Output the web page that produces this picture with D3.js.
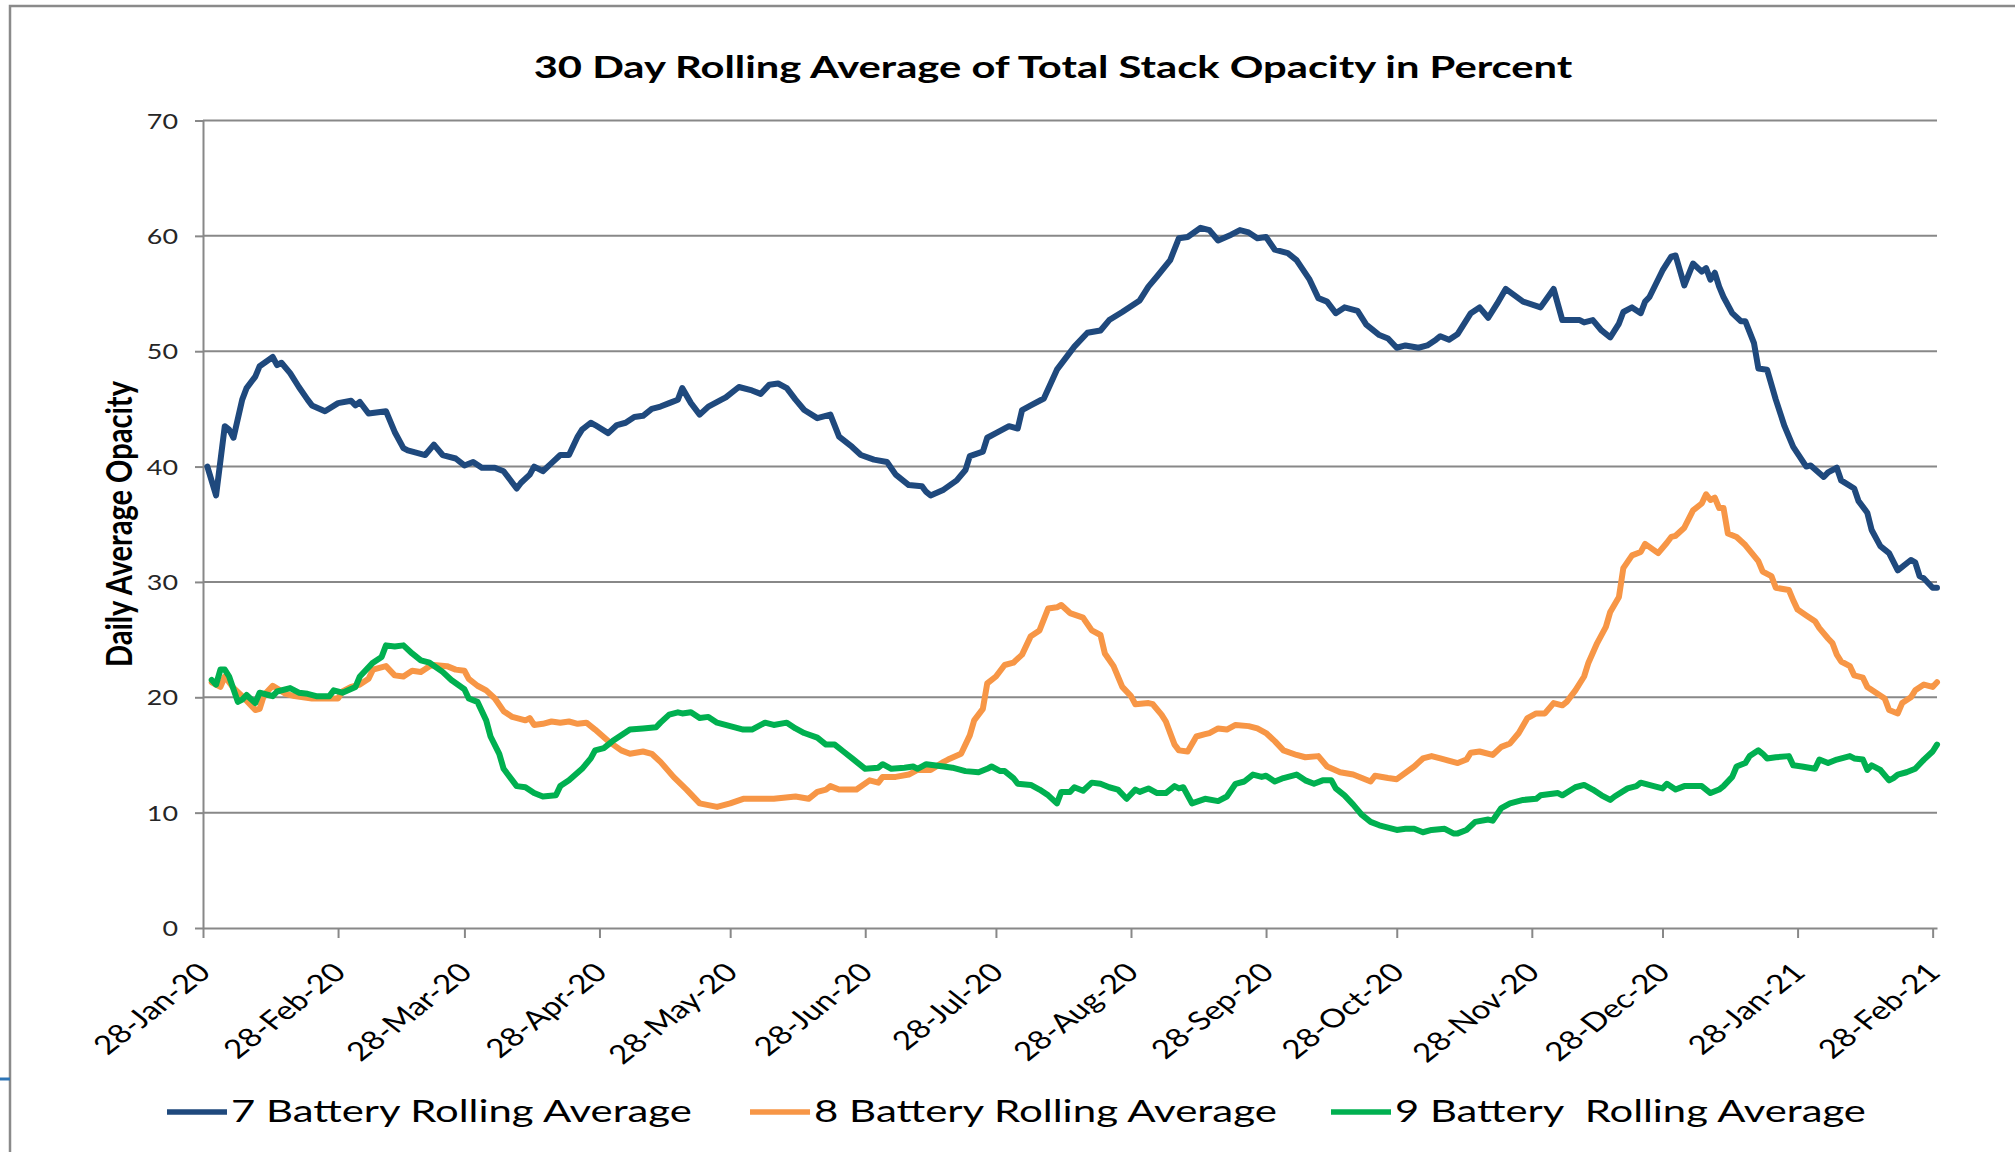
<!DOCTYPE html>
<html>
<head>
<meta charset="utf-8">
<script src="https://cdn.jsdelivr.net/npm/d3@7"></script>
<style>
  body { margin: 0; background: #fff; }
  svg text { font-family: Lato, 'Open Sans', sans-serif; }
</style>
</head>
<body>
<script>
// days after 28-Jan-20, 30 day rolling average in percent
var startDate = new Date(2020, 0, 28)
var endDate = new Date(2021, 2, 1)

var titleText = '30 Day Rolling Average of Total Stack Opacity in Percent'
var yTitleText = 'Daily Average Opacity'
var seriesNames = ['7 Battery Rolling Average', '8 Battery Rolling Average', '9 Battery  Rolling Average']
var yTicks = [0, 10, 20, 30, 40, 50, 60, 70]
var tickLabels = ['28-Jan-20', '28-Feb-20', '28-Mar-20', '28-Apr-20', '28-May-20', '28-Jun-20', '28-Jul-20',
  '28-Aug-20', '28-Sep-20', '28-Oct-20', '28-Nov-20', '28-Dec-20', '28-Jan-21', '28-Feb-21']

var battery7 = [[1,40.0],[3,37.5],[5,43.5],[6,43.2],[7,42.5],[9,45.8],[10,46.8],[12,47.8],[13,48.7],[16,49.5],
  [17,48.8],[18,49.0],[20,48.1],[22,46.9],[24,45.8],[25,45.3],[28,44.8],[31,45.5],[34,45.7],[35,45.3],[36,45.6],
  [38,44.6],[42,44.8],[44,43.0],[46,41.6],[47,41.4],[51,41.0],[53,41.9],[55,41.0],[58,40.7],[60,40.1],[62,40.4],
  [64,39.9],[67,39.9],[69,39.6],[72,38.1],[73,38.6],[75,39.3],[76,40.0],[78,39.6],[80,40.3],[82,41.0],[84,41.0],
  [86,42.6],[87,43.2],[89,43.8],[90,43.6],[93,42.9],[95,43.6],[97,43.8],[99,44.3],[101,44.4],[103,45.0],[105,45.2],
  [107,45.5],[109,45.8],[110,46.8],[112,45.5],[114,44.5],[116,45.2],[119,45.8],[120,46.0],[123,46.9],[126,46.6],
  [128,46.3],[130,47.1],[132,47.2],[134,46.8],[136,45.8],[138,44.9],[141,44.2],[144,44.5],[146,42.6],[149,41.7],
  [151,41.0],[154,40.6],[157,40.4],[159,39.3],[162,38.4],[165,38.3],[166,37.8],[167,37.5],[170,38.0],[173,38.8],
  [175,39.7],[176,40.9],[179,41.3],[180,42.5],[182,42.9],[185,43.5],[187,43.3],[188,44.9],[190,45.3],[193,45.9],
  [196,48.4],[200,50.4],[203,51.6],[206,51.8],[208,52.7],[211,53.4],[215,54.4],[217,55.6],[219,56.5],[222,57.9],
  [224,59.8],[226,59.9],[229,60.7],[231,60.5],[233,59.6],[236,60.1],[238,60.5],[240,60.3],[242,59.8],[244,59.9],
  [246,58.8],[249,58.5],[251,57.9],[254,56.2],[256,54.6],[258,54.3],[260,53.3],[262,53.8],[265,53.5],[267,52.3],
  [270,51.4],[272,51.1],[274,50.3],[276,50.5],[279,50.3],[281,50.5],[283,51.0],[284,51.3],[286,51.0],[288,51.5],
  [291,53.3],[293,53.8],[295,52.9],[297,54.1],[299,55.4],[303,54.3],[307,53.8],[310,55.4],[312,52.7],[316,52.7],
  [317,52.5],[319,52.7],[321,51.8],[323,51.2],[325,52.4],[326,53.4],[328,53.8],[330,53.3],[331,54.3],[332,54.7],
  [335,57.0],[337,58.2],[338,58.3],[340,55.7],[342,57.6],[344,56.9],[345,57.2],[346,56.2],[347,56.8],[348,55.6],
  [349,54.7],[351,53.3],[353,52.6],[354,52.6],[356,50.7],[357,48.5],[359,48.4],[361,45.8],[363,43.5],[365,41.7],
  [368,40.0],[369,40.1],[372,39.1],[373,39.5],[375,39.9],[376,38.8],[379,38.1],[380,37.0],[382,36.0],[383,34.5],
  [385,33.1],[387,32.5],[389,31.0],[392,31.9],[393,31.7],[394,30.5],[395,30.3],[397,29.5],[398,29.5]]

var battery8 = [[2,21.3],[4,20.9],[5,21.8],[7,20.8],[9,20.1],[12,18.9],[13,19.0],[14,20.2],[16,21.0],[19,20.3],
  [21,20.1],[25,19.9],[28,19.9],[31,19.9],[32,20.5],[34,20.9],[36,21.1],[38,21.6],[39,22.4],[42,22.7],[44,21.9],
  [46,21.8],[48,22.3],[50,22.2],[52,22.7],[53,22.8],[56,22.7],[58,22.4],[60,22.3],[61,21.6],[63,21.0],[65,20.6],
  [67,19.9],[69,18.8],[71,18.3],[74,18.0],[75,18.2],[76,17.6],[78,17.7],[80,17.9],[82,17.8],[84,17.9],[86,17.7],
  [88,17.8],[90,17.2],[93,16.2],[96,15.4],[98,15.1],[101,15.3],[103,15.1],[105,14.4],[108,13.1],[111,12.0],
  [114,10.8],[118,10.5],[121,10.8],[124,11.2],[127,11.2],[131,11.2],[136,11.4],[139,11.2],[141,11.8],[143,12.0],
  [144,12.3],[146,12.0],[150,12.0],[153,12.8],[155,12.6],[156,13.1],[159,13.1],[162,13.3],[164,13.7],[167,13.7],
  [170,14.4],[171,14.6],[174,15.1],[176,16.7],[177,18.0],[179,19.0],[180,21.2],[182,21.8],[184,22.8],[186,23.0],
  [188,23.7],[190,25.3],[192,25.8],[194,27.7],[196,27.8],[197,28.0],[199,27.3],[202,26.9],[204,25.8],[206,25.4],
  [207,23.8],[209,22.7],[211,20.9],[213,20.1],[214,19.4],[217,19.5],[218,19.4],[220,18.5],[221,17.9],[223,15.9],
  [224,15.4],[226,15.3],[228,16.6],[230,16.8],[231,16.9],[233,17.3],[235,17.2],[237,17.6],[240,17.5],[242,17.3],
  [244,16.9],[246,16.2],[248,15.4],[251,15.0],[253,14.8],[256,14.9],[258,14.0],[261,13.5],[264,13.3],[268,12.7],
  [269,13.2],[272,13.0],[274,12.9],[278,14.0],[280,14.7],[282,14.9],[284,14.7],[288,14.3],[290,14.6],[291,15.2],
  [293,15.3],[296,15.0],[298,15.7],[300,16.0],[302,16.9],[304,18.2],[306,18.6],[308,18.6],[310,19.5],[312,19.3],
  [313,19.6],[315,20.6],[317,21.8],[318,23.0],[320,24.7],[322,26.1],[323,27.4],[325,28.7],[326,31.2],[328,32.3],
  [330,32.6],[331,33.3],[334,32.5],[336,33.4],[337,33.9],[338,34.0],[340,34.7],[342,36.2],[344,36.8],[345,37.6],
  [346,37.1],[347,37.3],[348,36.4],[349,36.4],[350,34.2],[352,33.9],[354,33.2],[357,31.8],[358,30.9],[360,30.5],
  [361,29.5],[364,29.3],[365,28.4],[366,27.6],[368,27.1],[370,26.6],[371,26.0],[373,25.1],[374,24.7],[375,23.7],
  [376,23.1],[378,22.7],[379,21.9],[381,21.7],[382,20.9],[384,20.4],[386,19.9],[387,18.9],[389,18.6],[390,19.5],
  [392,20.0],[393,20.6],[395,21.1],[397,20.9],[398,21.3]]

var battery9 = [[2,21.5],[3,21.1],[4,22.4],[5,22.4],[6,21.8],[8,19.6],[9,19.8],[10,20.2],[12,19.5],[13,20.4],
  [15,20.2],[16,20.1],[17,20.5],[20,20.8],[22,20.4],[24,20.3],[26,20.1],[29,20.1],[30,20.6],[32,20.4],[35,20.9],
  [36,21.8],[39,23.0],[41,23.5],[42,24.5],[44,24.4],[46,24.5],[48,23.8],[50,23.2],[52,23.0],[55,22.2],[57,21.5],
  [60,20.7],[61,19.9],[63,19.6],[65,18.0],[66,16.6],[68,15.1],[69,13.8],[71,12.8],[72,12.3],[74,12.2],[76,11.7],
  [78,11.4],[81,11.5],[82,12.3],[84,12.8],[87,13.8],[89,14.7],[90,15.4],[92,15.6],[94,16.2],[96,16.7],[98,17.2],
  [101,17.3],[104,17.4],[105,17.8],[107,18.5],[109,18.7],[110,18.6],[112,18.7],[114,18.2],[116,18.3],[118,17.8],
  [121,17.5],[124,17.2],[126,17.2],[129,17.8],[131,17.6],[134,17.8],[136,17.3],[138,16.9],[141,16.5],[143,15.9],
  [145,15.9],[147,15.3],[149,14.7],[151,14.1],[152,13.8],[155,13.9],[156,14.2],[158,13.8],[161,13.9],[163,14.0],
  [164,13.8],[166,14.2],[170,14.0],[172,13.9],[175,13.6],[178,13.5],[180,13.8],[181,14.0],[183,13.6],[184,13.6],
  [186,13.0],[187,12.5],[190,12.4],[192,12.0],[194,11.5],[196,10.8],[197,11.8],[199,11.8],[200,12.2],[202,11.9],
  [204,12.6],[206,12.5],[208,12.2],[210,12.0],[212,11.2],[214,12.0],[215,11.8],[217,12.1],[219,11.7],[221,11.7],
  [223,12.3],[224,12.1],[225,12.2],[227,10.8],[230,11.2],[233,11.0],[235,11.4],[237,12.5],[239,12.7],[241,13.3],
  [243,13.1],[244,13.2],[246,12.7],[248,13.0],[251,13.3],[253,12.8],[255,12.5],[257,12.8],[259,12.8],[260,12.1],
  [262,11.5],[264,10.7],[266,9.8],[268,9.2],[270,8.9],[272,8.7],[274,8.5],[276,8.6],[278,8.6],[280,8.3],[282,8.5],
  [285,8.6],[287,8.2],[288,8.2],[290,8.5],[292,9.2],[295,9.4],[296,9.3],[298,10.4],[300,10.8],[303,11.1],[306,11.2],
  [307,11.5],[311,11.7],[312,11.5],[315,12.2],[317,12.4],[319,12.0],[321,11.5],[323,11.1],[324,11.4],[327,12.1],
  [329,12.3],[330,12.6],[333,12.3],[335,12.1],[336,12.5],[338,12.0],[340,12.3],[342,12.3],[344,12.3],[346,11.7],
  [348,12.0],[349,12.3],[351,13.1],[352,14.0],[354,14.3],[355,14.9],[357,15.4],[358,15.1],[359,14.7],[361,14.8],
  [364,14.9],[365,14.1],[367,14.0],[370,13.8],[371,14.6],[373,14.3],[375,14.6],[378,14.9],[379,14.7],[381,14.6],
  [382,13.7],[383,14.1],[385,13.7],[387,12.8],[388,13.0],[389,13.3],[391,13.5],[393,13.8],[395,14.6],[397,15.3],
  [398,15.9]]

var series = [battery7, battery8, battery9]
var colours = ['#1f497d', '#f79646', '#00b050']
var gridColour = '#888888'

var W = 2015
var H = 1152
var margin = {top: 120.5, right: 78, bottom: 224, left: 203}
var width = W - margin.left - margin.right
var height = H - margin.top - margin.bottom
var SX = 1.28 // the source picture is stretched sideways

var parseTick = d3.timeParse('%d-%b-%y')
var formatTick = d3.timeFormat('%d-%b-%y')
var tickDates = tickLabels.map(parseTick)

var svg = d3.select('body').append('svg')
  .attr('width', W)
  .attr('height', H)

// frame of the pasted chart
svg.append('path')
  .attr('d', 'M10,' + H + 'V6H' + W)
  .attr('fill', 'none')
  .attr('stroke', '#8a8a8a')
  .attr('stroke-width', 2.5)
svg.append('line')
  .attr('x1', 0).attr('x2', 10)
  .attr('y1', 1079).attr('y2', 1079)
  .attr('stroke', '#2e75b6')
  .attr('stroke-width', 3)

var x = d3.scaleTime().domain([startDate, endDate]).range([0, width])
var y = d3.scaleLinear().domain([0, 70]).range([height, 0])

var plot = svg.append('g')
  .attr('transform', 'translate(' + margin.left + ',' + margin.top + ')')

// gridlines
plot.append('g')
  .selectAll('line')
  .data(yTicks.filter(function(d) { return d > 0 }))
  .enter()
  .append('line')
  .attr('x1', 0)
  .attr('x2', width)
  .attr('y1', function(d) { return y(d) })
  .attr('y2', function(d) { return y(d) })
  .attr('stroke', gridColour)
  .attr('stroke-width', 2)

// y axis
var gy = plot.append('g')
  .call(d3.axisLeft(y).tickValues(yTicks).tickSize(8).tickSizeOuter(0))
gy.attr('font-family', null).attr('font-size', null)
gy.select('.domain').attr('stroke', gridColour).attr('stroke-width', 2)
gy.selectAll('.tick line').attr('stroke', gridColour).attr('stroke-width', 2)
gy.selectAll('.tick text')
  .attr('x', 0)
  .attr('dy', '0.36em')
  .attr('font-size', 21)
  .attr('fill', '#262626')
  .attr('transform', 'translate(-25,0) scale(' + SX + ',1)')

// x axis
var gx = plot.append('g')
  .attr('transform', 'translate(0,' + height + ')')
  .call(d3.axisBottom(x).tickValues(tickDates).tickFormat(formatTick).tickSize(10).tickSizeOuter(0))
gx.attr('font-family', null).attr('font-size', null)
gx.select('.domain').attr('stroke', gridColour).attr('stroke-width', 2)
gx.selectAll('.tick line').attr('stroke', gridColour).attr('stroke-width', 2)
gx.selectAll('.tick text')
  .attr('x', 0)
  .attr('y', 0)
  .attr('dy', 0)
  .attr('font-size', 26)
  .attr('fill', '#000')
  .attr('text-anchor', 'end')
  .attr('transform', 'translate(9,46) scale(' + SX + ',1) rotate(-45)')

// series lines, 9 battery drawn last as in the source
var line = d3.line()
  .x(function(d) { return x(d3.timeDay.offset(startDate, d[0])) })
  .y(function(d) { return y(d[1]) })

plot.append('g')
  .selectAll('path')
  .data(series)
  .enter()
  .append('path')
  .attr('d', line)
  .attr('fill', 'none')
  .attr('stroke', function(d, i) { return colours[i] })
  .attr('stroke-width', 6)
  .attr('stroke-linejoin', 'round')
  .attr('stroke-linecap', 'round')

// title
var title = svg.append('text')
  .attr('font-size', 30)
  .attr('font-weight', 700)
  .attr('text-anchor', 'middle')
  .text(titleText)
var tw = title.node().getComputedTextLength()
title.attr('transform', 'translate(1053,78) scale(' + (1039 / tw) + ',1)')

// y axis title
var yTitle = svg.append('text')
  .attr('font-size', 28)
  .attr('font-weight', 700)
  .attr('text-anchor', 'middle')
  .text(yTitleText)
var yl = yTitle.node().getComputedTextLength()
yTitle.attr('font-size', 28 * 286 / yl)
  .attr('transform', 'translate(132,524) scale(' + SX + ',1) rotate(-90)')

// legend
var legendX = [167, 750, 1331]
var legendW = [461, 463, 471]
var legend = svg.append('g')
  .selectAll('g')
  .data(seriesNames)
  .enter()
  .append('g')
  .attr('transform', function(d, i) { return 'translate(' + legendX[i] + ',1112)' })

legend.append('line')
  .attr('x1', 0)
  .attr('x2', 60)
  .attr('stroke', function(d, i) { return colours[i] })
  .attr('stroke-width', 5.5)

legend.append('text')
  .attr('font-size', 30)
  .attr('fill', '#000')
  .style('white-space', 'pre')
  .text(function(d) { return d })
  .attr('transform', function(d, i) {
    var w = this.getComputedTextLength()
    return 'translate(64,10) scale(' + (legendW[i] / w) + ',1)'
  })
</script>
</body>
</html>
